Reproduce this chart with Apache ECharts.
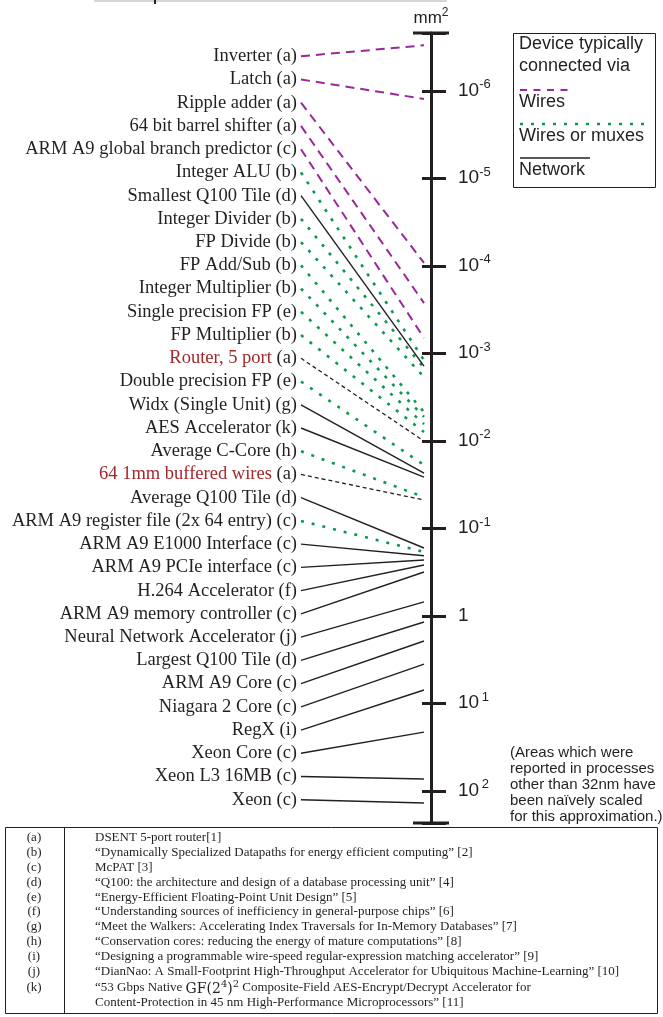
<!DOCTYPE html>
<html><head><meta charset="utf-8">
<script src="https://cdn.jsdelivr.net/npm/echarts@6/dist/echarts.min.js"></script>
<style>html,body{margin:0;padding:0;background:#fff}#chart{width:663px;height:1017px}</style>
</head><body><div id="chart"></div>
<script>
// ---------------- data ----------------
const devices = [
  'Inverter (a)', 'Latch (a)', 'Ripple adder (a)', '64 bit barrel shifter (a)',
  'ARM A9 global branch predictor (c)', 'Integer ALU (b)', 'Smallest Q100 Tile (d)',
  'Integer Divider (b)', 'FP Divide (b)', 'FP Add/Sub (b)', 'Integer Multiplier (b)',
  'Single precision FP (e)', 'FP Multiplier (b)', 'Router, 5 port (a)',
  'Double precision FP (e)', 'Widx (Single Unit) (g)', 'AES Accelerator (k)',
  'Average C-Core (h)', '64 1mm buffered wires (a)', 'Average Q100 Tile (d)',
  'ARM A9 register file (2x 64 entry) (c)', 'ARM A9 E1000 Interface (c)',
  'ARM A9 PCIe interface (c)', 'H.264 Accelerator (f)', 'ARM A9 memory controller (c)',
  'Neural Network Accelerator (j)', 'Largest Q100 Tile (d)', 'ARM A9 Core (c)',
  'Niagara 2 Core (c)', 'RegX (i)', 'Xeon Core (c)', 'Xeon L3 16MB (c)', 'Xeon (c)'
];
// area in mm^2
const areas = [
  3.0e-7, 1.23e-6, 9.2e-5, 2.65e-4,
  6.65e-4, 1.19e-3, 1.39e-3,
  1.46e-3, 1.86e-3, 4.67e-3, 5.3e-3,
  6.4e-3, 7.9e-3, 1.0e-2,
  1.88e-2, 2.32e-2, 2.58e-2,
  4.37e-2, 4.72e-2, 0.167,
  0.185, 0.205,
  0.229, 0.261, 0.314,
  0.69, 1.17, 1.93,
  3.54, 7.0, 21.2, 72.9, 137
];
// how each device is typically connected
const connection = [
  'wires', 'wires', 'wires', 'wires',
  'wires', 'muxes', 'network',
  'muxes', 'muxes', 'muxes', 'muxes',
  'muxes', 'muxes', 'interconnect',
  'muxes', 'network', 'network',
  'muxes', 'interconnect', 'network',
  'muxes', 'network',
  'network', 'network', 'network',
  'network', 'network', 'network',
  'network', 'network', 'network', 'network', 'network'
];
const redLabels = ['Router, 5 port (a)', '64 1mm buffered wires (a)'];
const axisMin = 2.17e-7, axisMax = 232;
const legendTitle = ['Device typically', 'connected via'];
const legendItems = ['Wires', 'Wires or muxes', 'Network'];
const noteLines = ['(Areas which were', 'reported in processes', 'other than 32nm have',
  'been na\u00efvely scaled', 'for this approximation.)'];
const refKeys = ['(a)', '(b)', '(c)', '(d)', '(e)', '(f)', '(g)', '(h)', '(i)', '(j)', '(k)', ''];
const refTitles = [
  'DSENT 5-port router[1]',
  '\u201cDynamically Specialized Datapaths for energy efficient computing\u201d [2]',
  'McPAT [3]',
  '\u201cQ100: the architecture and design of a database processing unit\u201d [4]',
  '\u201cEnergy-Efficient Floating-Point Unit Design\u201d [5]',
  '\u201cUnderstanding sources of inefficiency in general-purpose chips\u201d [6]',
  '\u201cMeet the Walkers: Accelerating Index Traversals for In-Memory Databases\u201d [7]',
  '\u201cConservation cores: reducing the energy of mature computations\u201d [8]',
  '\u201cDesigning a programmable wire-speed regular-expression matching accelerator\u201d [9]',
  '\u201cDianNao: A Small-Footprint High-Throughput Accelerator for Ubiquitous Machine-Learning\u201d [10]',
  '\u201c53 Gbps Native {m|GF}{m|(2}{s|4}{m|)}{s|2} Composite-Field AES-Encrypt/Decrypt Accelerator for',
  'Content-Protection in 45 nm High-Performance Microprocessors\u201d [11]'
];

// ---------------- styles ----------------
const INK = '#231f20';
const SANS = '"Liberation Sans", Arial, sans-serif';
const SERIF = '"Liberation Serif", "Times New Roman", serif';
const lineStyles = {
  wires: { color: '#98299b', width: 2, type: [9, 6] },
  muxes: { color: '#0b9a4b', width: 2.6, type: [3, 8] },
  network: { color: INK, width: 1.4, type: 'solid' },
  interconnect: { color: INK, width: 1.3, type: [4, 3] }
};

const TOP = 33, BOTTOM = 1017 - 823;

const seriesList = Object.keys(lineStyles).map(function (t) {
  const data = [];
  devices.forEach(function (d, i) { if (connection[i] === t) data.push([d, areas[i]]); });
  return {
    type: 'parallel', name: t, silent: true, smooth: false,
    lineStyle: Object.assign({ opacity: 1 }, lineStyles[t]),
    emphasis: { disabled: true },
    inactiveOpacity: 1, activeOpacity: 1,
    data: data
  };
});

function tickFormatter(v) {
  const e = Math.log10(v);
  const n = Math.round(e);
  if (Math.abs(e - n) > 1e-6) return '';
  if (n === 0) return '{b|1}{s| }';
  return '{b|10}{s|' + (n > 0 ? '\u2009' + n : n) + '}';
}

const graphics = [];
// cropped rule at the top of the page
graphics.push({ type: 'line', shape: { x1: 94, y1: 1, x2: 447, y2: 1 }, style: { stroke: '#c8c8c8', lineWidth: 1.5 } });
graphics.push({ type: 'line', shape: { x1: 155, y1: 0, x2: 155, y2: 4 }, style: { stroke: INK, lineWidth: 2 } });
// legend box
graphics.push({ type: 'rect', shape: { x: 513.5, y: 33.5, width: 142, height: 154 }, style: { fill: '#fff', stroke: INK, lineWidth: 1 } });
legendTitle.forEach(function (t, i) {
  graphics.push({ type: 'text', style: { text: t, x: 519, y: 44 + i * 22, font: '18px ' + SANS, fill: INK, verticalAlign: 'middle' } });
});
const legendKeys = ['wires', 'muxes', 'network'];
const legendLineLen = [49, 131, 70];
legendItems.forEach(function (t, i) {
  const y = 90 + i * 34;
  const st = lineStyles[legendKeys[i]];
  graphics.push({ type: 'line', shape: { x1: 520, y1: y, x2: 520 + legendLineLen[i], y2: y },
    style: { stroke: st.color, lineWidth: st.width, lineDash: Array.isArray(st.type) ? (i === 0 ? [7, 6.5] : st.type) : null } });
  graphics.push({ type: 'text', style: { text: t, x: 519, y: y + 12.5, font: '18px ' + SANS, fill: INK, verticalAlign: 'middle' } });
});
// note
noteLines.forEach(function (t, i) {
  graphics.push({ type: 'text', style: { text: t, x: 510, y: 753 + i * 15.9, font: '15px ' + SANS, fill: INK, verticalAlign: 'middle' } });
});
// reference table
graphics.push({ type: 'rect', shape: { x: 5.5, y: 827.5, width: 652, height: 186 }, style: { fill: 'none', stroke: INK, lineWidth: 1 } });
graphics.push({ type: 'line', shape: { x1: 64.5, y1: 827.5, x2: 64.5, y2: 1013.5 }, style: { stroke: INK, lineWidth: 1 } });
refKeys.forEach(function (k, i) {
  const y = 838 + i * 14.8 + (i >= 10 ? 2 : 0);
  if (k) graphics.push({ type: 'text', style: { text: k, x: 34, y: y, font: '13px ' + SERIF, fill: INK, align: 'center', verticalAlign: 'middle' } });
  graphics.push({ type: 'text', style: {
    text: refTitles[i], x: 95, y: y, font: '13px ' + SERIF, fill: INK, verticalAlign: 'middle',
    rich: {
      m: { fontFamily: '"DejaVu Serif", serif', fontSize: 14, fill: INK, verticalAlign: 'bottom' },
      s: { fontFamily: '"DejaVu Serif", serif', fontSize: 10, fill: INK, verticalAlign: 'bottom', padding: [0, 0, 7, 0] }
    }
  } });
});

const option = {
  animation: false,
  backgroundColor: '#fff',
  parallel: {
    left: 301, right: 663 - 424, top: TOP, bottom: BOTTOM, layout: 'horizontal'
  },
  parallelAxis: [
    {
      dim: 0, type: 'category', name: '', inverse: true, boundaryGap: false,
      data: [' '].concat(devices).concat(['  ']),
      axisLine: { show: false }, axisTick: { show: false },
      axisLabel: {
        interval: 0, margin: -4, align: 'right', fontFamily: SERIF, fontSize: 18.5, color: INK,
        formatter: function (name) {
          if (redLabels.indexOf(name) >= 0) {
            const cut = name.lastIndexOf(' (');
            return '{r|' + name.slice(0, cut) + '}{k|' + name.slice(cut) + '}';
          }
          return name.trim();
        },
        rich: {
          r: { color: '#a3282c', fontFamily: SERIF, fontSize: 18.5 },
          k: { color: INK, fontFamily: SERIF, fontSize: 18.5 }
        }
      }
    },
    {
      dim: 1, type: 'log', name: '', inverse: true, min: axisMin, max: axisMax,
      axisLine: { show: false }, axisTick: { show: false },
      axisLabel: { show: false, formatter: function () { return ''; } }
    }
  ],
  grid: { left: 431, right: 20, top: TOP, bottom: BOTTOM, containLabel: false },
  xAxis: { type: 'value', show: false, min: 0, max: 1 },
  yAxis: [
    {
      type: 'log', inverse: true, min: axisMin, max: axisMax, position: 'left', splitNumber: 9,
      axisLine: { show: true, lineStyle: { color: INK, width: 3 }, symbol: ['rect', 'rect'], symbolSize: [36, 3] },
      axisTick: { show: true, length: 9, lineStyle: { color: INK, width: 3 } },
      axisLabel: { show: false }, splitLine: { show: false },
      name: '{m|mm}{s|2}', nameLocation: 'start', nameGap: 6,
      nameTextStyle: {
        rich: {
          m: { fontFamily: SANS, fontSize: 17, color: INK, verticalAlign: 'bottom' },
          s: { fontFamily: SANS, fontSize: 12, color: INK, verticalAlign: 'bottom', padding: [0, 0, 8, 0] }
        }
      }
    },
    {
      type: 'log', inverse: true, min: axisMin, max: axisMax, position: 'left', offset: 0, splitNumber: 9,
      axisLine: { show: false },
      axisTick: { show: true, inside: true, length: 15, lineStyle: { color: INK, width: 3 } },
      splitLine: { show: false },
      axisLabel: {
        inside: true, margin: 27, formatter: tickFormatter, showMinLabel: true, showMaxLabel: true,
        padding: [0, 0, 4, 0],
        rich: {
          b: { fontFamily: SANS, fontSize: 19, color: INK, verticalAlign: 'bottom' },
          s: { fontFamily: SANS, fontSize: 13, color: INK, verticalAlign: 'bottom', padding: [0, 0, 9, 0] }
        }
      }
    }
  ],
  series: seriesList,
  graphic: graphics
};

const chart = echarts.init(document.getElementById('chart'));
chart.setOption(option);
</script>
</body></html>
